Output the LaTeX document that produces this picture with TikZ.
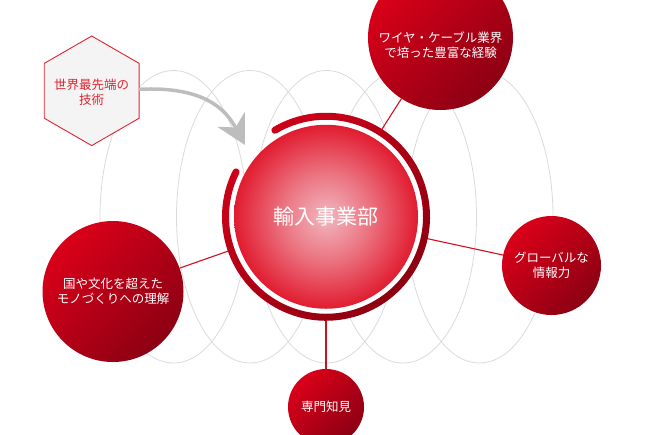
\documentclass[tikz,border=0pt]{standalone}
\usepackage{fontspec}
\setmainfont{Noto Sans CJK JP}
\usetikzlibrary{shapes.geometric,arrows.meta,calc,backgrounds}
\definecolor{ellgray}{HTML}{DADADA}
\definecolor{satlight}{HTML}{DA0019}
\definecolor{satdark}{HTML}{8C0013}
\definecolor{ringlight}{HTML}{D2001A}
\definecolor{ringdark}{HTML}{88000F}
\definecolor{linkred}{HTML}{D0101F}
\definecolor{hexred}{HTML}{E3222E}
\definecolor{hexfill}{HTML}{F4F4F4}
\definecolor{arrowgray}{HTML}{BDBDBD}
\definecolor{corecenter}{HTML}{F1B8C0}
\definecolor{coremid}{HTML}{EB7380}
\definecolor{coreedge}{HTML}{E11C30}
\pgfdeclareradialshading{coreshade}{\pgfpoint{0bp}{0bp}}{color(0bp)=(corecenter); color(12bp)=(coremid); color(25bp)=(coreedge); color(50bp)=(coreedge)}
\begin{document}
\begin{tikzpicture}[x=1pt,y=1pt,
  ell/.style={draw=ellgray, line width=0.8pt},
  satellite/.style={circle, inner sep=0pt, top color=satlight, bottom color=satdark, shading angle=45, text=white, align=center, font=\fontsize{12.5}{15.5}\selectfont},
  sattext/.style={text=white, align=center, inner sep=0pt, font=\fontsize{12.5}{15.5}\selectfont},
  link/.style={draw=linkred, line width=1.1pt},
  core/.style={circle, inner sep=0pt, minimum size=184pt, shade, shading=coreshade, text=white, font=\fontsize{21}{25}\selectfont},
  hexline/.style={draw=hexred, line width=0.9pt, fill=hexfill, line join=miter},
  hextext/.style={inner sep=0pt, text=hexred, align=center, font=\fontsize{12.5}{15.5}\selectfont},
  arrowstyle/.style={draw=arrowgray, line width=3.5pt, -{Stealth[length=29pt, width=31pt, inset=9pt, fill=arrowgray]}}
]
\clip (0,0) rectangle (652,-434);
\coordinate (ctr) at (326,-216.75);

% central ring: white band and dark ring with round ends
\draw[white, line width=7pt] ($(ctr)+(153.5:94.5)$) arc[start angle=153.5, end angle=480.6, radius=94.5];
\shade[top color=ringlight, bottom color=ringdark, shading angle=45]
  ($(ctr)+(153.5:104)$) arc[start angle=153.5, end angle=480.6, radius=104]
  arc[start angle=480.6, end angle=660.6, radius=3.5]
  arc[start angle=480.6, end angle=153.5, radius=97]
  arc[start angle=333.5, end angle=513.5, radius=3.5] -- cycle;

\node[core] (core) at (ctr) {輸入事業部};

% satellites
\node[satellite, minimum size=145pt] (exp) at (440.5,-37.5) {};
\node[sattext] (exptext) at (440.5,-45) {ワイヤ・ケーブル業界\\で培った豊富な経験};
\node[satellite, minimum size=141pt] (mono) at (113,-291.5) {国や文化を超えた\\モノづくりへの理解};
\node[satellite, minimum size=99pt] (info) at (551.5,-265.5) {グローバルな\\情報力};
\node[satellite, minimum size=76pt] (pro) at (326,-407) {専門知見};

% hexagon and arrow
\coordinate (hexc) at (91.7,-90.8);
\path[hexline] ($(hexc)+(90:54.8)$) -- ($(hexc)+(150:54.8)$) -- ($(hexc)+(210:54.8)$)
  -- ($(hexc)+(270:54.8)$) -- ($(hexc)+(330:54.8)$) -- ($(hexc)+(30:54.8)$) -- cycle;
\coordinate (hexe) at ($(hexc)+(47.5,1.5)$);
\node[hextext] (tech) at ($(hexc)+(0,-1.5)$) {世界最先端の\\技術};
\draw[arrowstyle] (hexe) .. controls (205,-86) and (226,-110) .. (245,-145);

\begin{scope}[on background layer]
  \foreach \cx in {173.5,250,326.5,403,479.5}
    \draw[ell] (\cx,-216.75) ellipse [x radius=73.5, y radius=146.25];
\end{scope}
\begin{scope}[on background layer]
  \draw[link] (core) -- (exp);
  \draw[link] (core) -- (mono);
  \draw[link] (core) -- (info);
  \draw[link] (core) -- (pro);
\end{scope}
\end{tikzpicture}
\end{document}
